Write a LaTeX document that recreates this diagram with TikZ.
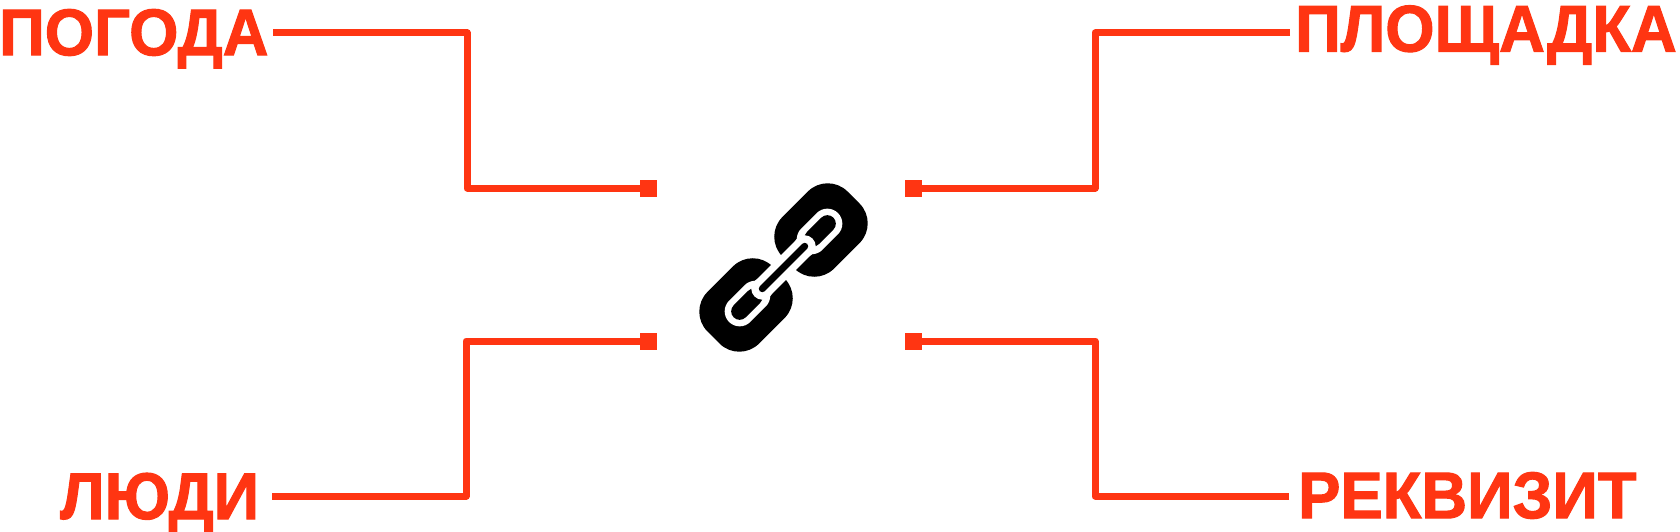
\documentclass[tikz,border=0pt]{standalone}
\usepackage{fontspec}
\setmainfont{Liberation Sans}
\newfontfamily\labelfont[FakeBold=1.6,FakeStretch=0.96]{Liberation Sans Bold}
\definecolor{wirered}{RGB}{255,53,18}
\tikzset{
  wire/.style={draw=wirered,line width=7pt,line join=round},
  endsquare/.style={fill=wirered,inner sep=0pt,minimum width=17pt,minimum height=17pt},
  label/.style={text=wirered,inner sep=0pt,anchor=base west,font=\fontsize{66}{66}\labelfont}
}
\begin{document}
\begin{tikzpicture}[x=1pt,y=-1pt]
\useasboundingbox (0,0) rectangle (1680,532);

% подписи
\node[label] (pogoda) at (-1,55.2) {ПОГОДА};
\node[label] (ploshchadka) at (1295,51.5) {ПЛОЩАДКА};
\node[label] (lyudi) at (60,519) {ЛЮДИ};
\node[label] (rekvizit) at (1298,518.2) {РЕКВИЗИТ};

% квадраты
\node[endsquare] (sqtl) at (648.5,188) {};
\node[endsquare] (sqtr) at (913.5,188) {};
\node[endsquare] (sqbl) at (648.5,341) {};
\node[endsquare] (sqbr) at (913.5,341) {};

% свободные концы линий
\coordinate (endtl) at (273,33);
\coordinate (endtr) at (1290,33);
\coordinate (endbl) at (272,496);
\coordinate (endbr) at (1289,496);

% соединения
\draw[wire] (endtl) -- ++(194,0) |- (sqtl);
\draw[wire] (endtr) -- ++(-195,0) |- (sqtr);
\draw[wire] (endbl) -- ++(194,0) |- (sqbl);
\draw[wire] (endbr) -- ++(-194,0) |- (sqbr);

% звенья цепи
\foreach \a in {45,225} {
  \begin{scope}[shift={(783.5,267.5)},rotate=\a]
    \fill[black,rounded corners=28pt] (7,-36.5) rectangle (99,36.5);
    \fill[white,rounded corners=15pt] (25,-15) rectangle (77,15);
    \fill[black,rounded corners=8.5pt] (33,-8.5) rectangle (70.5,8.5);
    \fill[white] (30,0) circle (11);
  \end{scope}
}
\begin{scope}[shift={(783.5,267.5)},rotate=45]
  \draw[white,line width=21pt] (-30,0) -- (30,0);
  \draw[black,line width=7pt,line cap=round] (-30,0) -- (30,0);
\end{scope}
\end{tikzpicture}
\end{document}
